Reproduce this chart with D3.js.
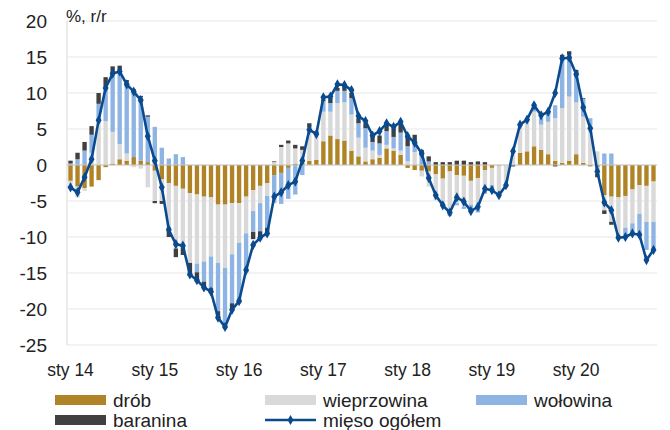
<!DOCTYPE html>
<html>
<head>
<meta charset="utf-8">
<script src="https://cdn.jsdelivr.net/npm/d3@7"></script>
<style>
  body { margin: 0; background: #fff; }
  text { font-family: "Liberation Sans", Arial, sans-serif; }
</style>
</head>
<body>
<div id="chart"></div>
<script>
// monthly data, Jan 2014 .. Dec 2020 (contributions, pp)
const drob = [-2.2, -3.0, -3.2, -3.0, -2.1, -0.3, 0.2, 0.8, 0.6, 1.1, 0.6, 0.4,
    -0.8, -2.0, -2.5, -2.9, -3.3, -3.9, -4.1, -4.4, -4.5, -5.5, -5.5, -5.3,
    -5.3, -4.4, -3.5, -2.9, -2.5, -1.4, -1.1, -0.4, 0.2, 0.3, 0.6, 0.7,
    3.3, 4.1, 3.6, 3.4, 2.0, 1.2, 0.5, 0.8, 1.0, 2.3, 2.0, 1.4,
    -0.4, -0.7, -0.8, -0.9, -1.3, -1.9, -0.9, -1.4, -1.5, -2.2, -1.8, -0.7,
    -0.4, -0.1, 0.0, 0.0, 1.7, 1.9, 2.6, 2.1, 1.5, 0.6, 0.3, 0.6,
    1.5, 0.3, -0.2, -0.3, -4.2, -4.4, -4.5, -4.3, -3.4, -2.8, -2.9, -2.3];
const wieprzowina = [-0.5, -1.5, -0.4, 1.7, 6.1, 6.1, 4.4, 2.1, 1.0, -0.3, -0.5, -3.1,
    -4.2, -3.0, -6.2, -8.7, -8.2, -9.7, -9.6, -9.0, -8.2, -8.1, -8.8, -7.1,
    -5.5, -5.1, -2.9, -2.4, -1.8, 0.4, 2.5, 3.0, 2.1, 1.8, 4.6, 3.7,
    4.1, 3.3, 5.0, 5.3, 5.0, 2.6, 1.9, 1.2, 0.4, 0.5, 0.3, 0.6,
    0.5, 1.8, -0.8, -2.1, -3.6, -3.9, -5.6, -3.9, -4.3, -3.3, -4.3, -2.8,
    -2.4, -4.0, -2.5, 1.4, 4.1, 4.3, 4.8, 3.5, 4.5, 5.9, 7.6, 8.9,
    7.2, 6.4, 5.6, 1.9, -2.1, -3.5, -5.2, -4.4, -4.7, -4.0, -5.0, -5.6];
const wolowina = [0.2, 0.8, 2.0, 2.5, 2.4, 4.8, 7.9, 10.2, 9.9, 9.2, 8.8, 6.3,
    5.3, 2.4, 0.9, 1.5, 1.1, 0.0, -1.2, -2.8, -4.4, -6.7, -7.9, -6.8,
    -7.9, -5.1, -2.9, -3.9, -4.4, -3.9, -4.3, -4.3, -4.1, -1.4, 0.0, 0.0,
    1.5, 1.2, 1.7, 1.6, 2.3, 2.0, 2.7, 1.2, 1.6, 1.9, 1.6, 2.5,
    2.1, 1.2, 1.3, 0.5, 0.0, 0.0, -0.6, -0.3, -0.3, -0.6, -0.5, -0.5,
    -0.5, 0.0, 0.0, 0.0, 0.0, 0.0, 0.9, 0.9, 1.4, 1.8, 6.9, 5.8,
    4.0, 2.5, 0.9, -0.9, 1.6, 1.6, -0.5, -1.0, -1.2, -2.9, -3.9, -3.9];
const baranina = [0.4, 0.9, 1.2, 1.2, 1.5, 1.3, 1.2, 0.7, 0.3, 0.2, 0.2, 0.2,
    -0.3, -0.4, -1.3, -1.2, -1.0, -1.8, -1.3, -0.9, -0.7, -0.9, -0.5, -0.7,
    -0.5, -0.3, -1.0, -0.9, -0.7, 0.1, 0.3, 0.4, 0.5, 0.5, 0.6, 0.3,
    0.2, 0.7, 0.4, 0.8, 0.7, 0.7, 0.7, 1.1, 1.1, 0.9, 1.2, 1.2,
    1.4, 1.2, 0.8, 0.7, 0.4, 0.4, 0.4, 0.6, 0.6, 0.4, 0.5, 0.4,
    0.0, 0.0, 0.0, -0.2, 0.0, 0.0, 0.0, 0.0, 0.0, -0.2, 0.5, 0.5,
    0.5, 0.1, 0.0, -0.5, -0.5, -0.4, 0.0, 0.0, 0.0, 0.0, 0.0, 0.0];
const ogolem = [-3.1, -3.8, -1.7, 0.8, 6.2, 10.7, 12.7, 13.0, 11.2, 10.2, 9.0, 4.0,
    0.6, -3.1, -9.0, -11.0, -11.2, -15.2, -16.0, -17.0, -17.6, -21.2, -22.5, -20.1,
    -18.9, -14.6, -11.1, -10.1, -9.5, -4.4, -3.8, -2.8, -2.3, 0.6, 4.9, 4.3,
    9.4, 9.5, 11.2, 11.1, 10.4, 6.8, 6.1, 4.1, 4.7, 5.8, 5.3, 6.0,
    4.0, 3.1, 1.6, -1.8, -4.2, -5.6, -6.6, -4.5, -5.1, -6.4, -5.8, -3.3,
    -3.5, -4.2, -2.8, 1.9, 5.6, 6.3, 8.3, 6.9, 7.4, 10.0, 14.8, 14.9,
    12.6, 8.0, 5.1, -0.9, -5.2, -6.3, -10.1, -10.0, -9.5, -9.7, -13.2, -11.8];

const tickLabels = ["sty 14", "sty 15", "sty 16", "sty 17", "sty 18", "sty 19", "sty 20"];
const yTicks = [20, 15, 10, 5, 0, -5, -10, -15, -20, -25];

const keys = ["drob", "wieprzowina", "wolowina", "baranina"];
const names = { drob: "drób", wieprzowina: "wieprzowina", wolowina: "wołowina", baranina: "baranina" };
const colors = { drob: "#b08426", wieprzowina: "#d9d9d9", wolowina: "#8eb4e3", baranina: "#404040" };
const lineColor = "#0a4a8f";

const months = d3.range(ogolem.length);
const table = months.map(i => ({
    i: i,
    drob: drob[i],
    wieprzowina: wieprzowina[i],
    wolowina: wolowina[i],
    baranina: baranina[i]
}));

const width = 670, height = 430;
const margin = { left: 67, right: 13, top: 21, bottom: 85 };

const svg = d3.select("#chart").append("svg")
    .attr("width", width)
    .attr("height", height);

const x = d3.scaleBand()
    .domain(months)
    .range([margin.left, width - margin.right])
    .paddingInner(0.38)
    .paddingOuter(0.19);

const y = d3.scaleLinear()
    .domain([-25, 20])
    .range([height - margin.bottom, margin.top]);

// gridlines
svg.append("g")
    .selectAll("line")
    .data(yTicks)
    .join("line")
    .attr("x1", margin.left)
    .attr("x2", width - margin.right)
    .attr("y1", d => y(d))
    .attr("y2", d => y(d))
    .attr("stroke", "#efefef")
    .attr("stroke-width", 1.5);

// y axis line
svg.append("line")
    .attr("x1", margin.left).attr("x2", margin.left)
    .attr("y1", y(20)).attr("y2", y(-25))
    .attr("stroke", "#d9d9d9")
    .attr("stroke-width", 1);

// y labels
svg.append("g")
    .selectAll("text")
    .data(yTicks)
    .join("text")
    .attr("x", 47)
    .attr("y", d => y(d))
    .attr("dy", "0.35em")
    .attr("text-anchor", "end")
    .attr("font-size", 19)
    .attr("fill", "#222")
    .text(d => d);

svg.append("text")
    .attr("x", 66)
    .attr("y", 22)
    .attr("font-size", 17)
    .attr("fill", "#222")
    .text("%, r/r");

// stacked bars
const series = d3.stack()
    .keys(keys)
    .offset(d3.stackOffsetDiverging)(table);

svg.append("g")
    .selectAll("g")
    .data(series)
    .join("g")
    .attr("fill", d => colors[d.key])
    .selectAll("rect")
    .data(d => d)
    .join("rect")
    .attr("x", d => x(d.data.i))
    .attr("width", x.bandwidth())
    .attr("y", d => y(Math.max(d[0], d[1])))
    .attr("height", d => Math.abs(y(d[0]) - y(d[1])));

// zero line
svg.append("line")
    .attr("x1", margin.left).attr("x2", width - margin.right)
    .attr("y1", y(0)).attr("y2", y(0))
    .attr("stroke", "#c8c8c8")
    .attr("stroke-width", 1.2);

// line: mięso ogółem
const cx = i => x(i) + x.bandwidth() / 2;
svg.append("path")
    .datum(ogolem)
    .attr("fill", "none")
    .attr("stroke", lineColor)
    .attr("stroke-width", 2.6)
    .attr("stroke-linejoin", "round")
    .attr("d", d3.line().x((d, i) => cx(i)).y(d => y(d)));

const diamond = d3.symbol().type(d3.symbolDiamond).size(30);
svg.append("g")
    .selectAll("path")
    .data(ogolem)
    .join("path")
    .attr("transform", (d, i) => `translate(${cx(i)},${y(d)})`)
    .attr("d", diamond)
    .attr("fill", lineColor);

// x labels
svg.append("g")
    .selectAll("text")
    .data(tickLabels)
    .join("text")
    .attr("x", (d, k) => cx(k * 12))
    .attr("y", 376)
    .attr("text-anchor", "middle")
    .attr("font-size", 17.5)
    .attr("fill", "#222")
    .text(d => d);

// legend
const legendItems = [
    { key: "drob", x: 55, y: 400 },
    { key: "wieprzowina", x: 265, y: 400 },
    { key: "wolowina", x: 476, y: 400 },
    { key: "baranina", x: 55, y: 420 }
];
const legend = svg.append("g");
legendItems.forEach(it => {
    legend.append("rect")
        .attr("x", it.x).attr("y", it.y - 5)
        .attr("width", 51).attr("height", 10)
        .attr("fill", colors[it.key]);
    legend.append("text")
        .attr("x", it.x + 58).attr("y", it.y)
        .attr("dy", "0.35em")
        .attr("font-size", 19)
        .attr("fill", "#222")
        .text(names[it.key]);
});
legend.append("line")
    .attr("x1", 265).attr("x2", 316)
    .attr("y1", 420).attr("y2", 420)
    .attr("stroke", lineColor).attr("stroke-width", 2.6);
legend.append("path")
    .attr("transform", "translate(290.5,420)")
    .attr("d", diamond)
    .attr("fill", lineColor);
legend.append("text")
    .attr("x", 323).attr("y", 420)
    .attr("dy", "0.35em")
    .attr("font-size", 19)
    .attr("fill", "#222")
    .text("mięso ogółem");
</script>
</body>
</html>
